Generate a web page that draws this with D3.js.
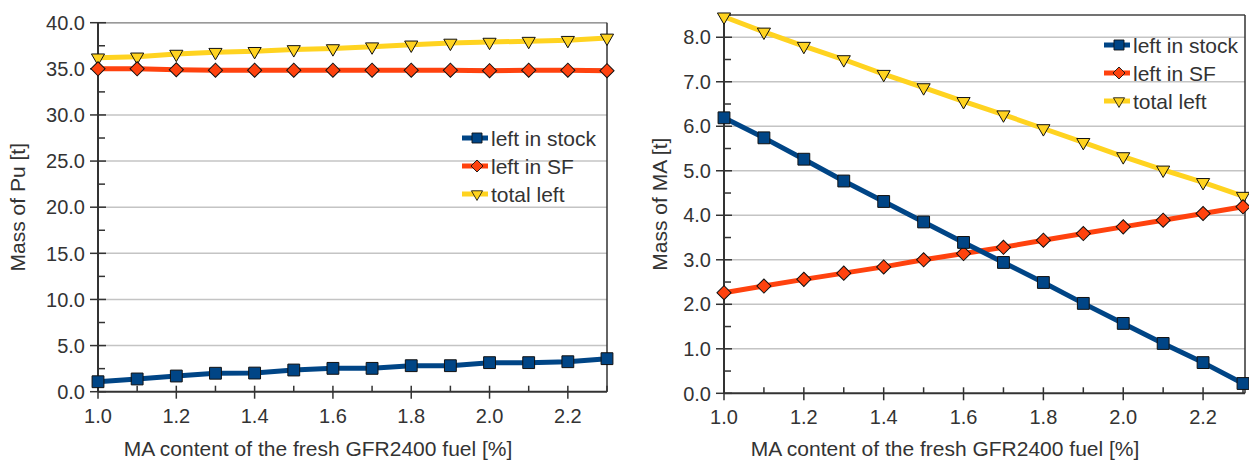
<!DOCTYPE html>
<html>
<head>
<meta charset="utf-8">
<script src="https://cdn.jsdelivr.net/npm/d3@7.9.0/dist/d3.min.js"></script>
<style>
  body { margin: 0; background: #fff; }
  svg { display: block; font-family: "Liberation Sans", Arial, sans-serif; }
</style>
</head>
<body>
<svg id="vis" width="1249" height="461"></svg>
<script>
// data
const maContent = [1.0, 1.1, 1.2, 1.3, 1.4, 1.5, 1.6, 1.7, 1.8, 1.9, 2.0, 2.1, 2.2, 2.3];
const seriesNames = ['left in stock', 'left in SF', 'total left'];

const puStock = [1.08, 1.38, 1.70, 2.00, 2.02, 2.35, 2.53, 2.53, 2.82, 2.82, 3.15, 3.15, 3.25, 3.58];
const puSF    = [35.0, 35.0, 34.9, 34.85, 34.85, 34.85, 34.85, 34.85, 34.85, 34.85, 34.8, 34.85, 34.85, 34.8];
const puTotal = [36.2, 36.3, 36.6, 36.8, 36.9, 37.1, 37.2, 37.4, 37.6, 37.8, 37.9, 38.0, 38.1, 38.35];

const maStock = [6.19, 5.74, 5.26, 4.77, 4.31, 3.85, 3.39, 2.94, 2.49, 2.02, 1.57, 1.12, 0.69, 0.22];
const maSF    = [2.26, 2.41, 2.56, 2.70, 2.84, 3.00, 3.14, 3.28, 3.44, 3.59, 3.74, 3.89, 4.04, 4.19];
const maTotal = [8.46, 8.12, 7.80, 7.50, 7.17, 6.87, 6.56, 6.26, 5.95, 5.64, 5.32, 5.02, 4.74, 4.43];

const xTitle = 'MA content of the fresh GFR2400 fuel [%]';

// styles
const colors = ['#004586', '#ff420e', '#ffd320'];
const textCol = '#333';
const gridCol = '#c4c4c4';
const axisCol = '#333';

const svg = d3.select('#vis');
svg.append('rect').attr('width', 1249).attr('height', 461).attr('fill', '#fff');

function symbolFor(i) {
  if (i === 0) return d3.symbol(d3.symbolSquare, 140)();
  if (i === 1) return d3.symbol(d3.symbolSquare, 100)();
  return d3.symbol(d3.symbolTriangle, 75)();
}
function symbolRot(i) {
  return i === 1 ? 45 : (i === 2 ? 180 : 0);
}

function drawPanel(cfg) {
  const g = svg.append('g');
  const x = d3.scaleLinear().domain([1.0, 2.3]).range([cfg.x0, cfg.x1]);
  const y = d3.scaleLinear().domain([0, cfg.yMax]).range([cfg.yBot, cfg.yTop]);

  const majors = d3.range(0, cfg.yMax + 1e-9, cfg.yStep);
  const minors = d3.range(cfg.yStep / 2, cfg.yMax + 1e-9, cfg.yStep);

  // grid
  g.append('g').selectAll('line').data(majors.filter(v => v > 0)).join('line')
    .attr('x1', cfg.x0).attr('x2', cfg.frameRight)
    .attr('y1', d => y(d)).attr('y2', d => y(d))
    .attr('stroke', gridCol).attr('stroke-width', 1.5);

  // frame top / right
  g.append('line').attr('x1', cfg.x0).attr('x2', cfg.frameRight)
    .attr('y1', cfg.yTop).attr('y2', cfg.yTop)
    .attr('stroke', cfg.topCol).attr('stroke-width', 1.5);
  g.append('line').attr('x1', cfg.frameRight).attr('x2', cfg.frameRight)
    .attr('y1', cfg.yTop).attr('y2', cfg.yBot)
    .attr('stroke', axisCol).attr('stroke-width', 1.5);

  // y axis
  g.append('line').attr('x1', cfg.x0).attr('x2', cfg.x0)
    .attr('y1', cfg.yTop).attr('y2', cfg.yBot)
    .attr('stroke', axisCol).attr('stroke-width', 2);
  g.append('g').selectAll('line').data(majors).join('line')
    .attr('x1', cfg.x0 - 8).attr('x2', cfg.x0 + 8)
    .attr('y1', d => y(d)).attr('y2', d => y(d))
    .attr('stroke', axisCol).attr('stroke-width', 1.5);
  g.append('g').selectAll('line').data(minors).join('line')
    .attr('x1', cfg.x0).attr('x2', cfg.x0 + 7)
    .attr('y1', d => y(d)).attr('y2', d => y(d))
    .attr('stroke', axisCol).attr('stroke-width', 1.5);
  g.append('g').selectAll('text').data(majors).join('text')
    .attr('x', cfg.x0 - 13).attr('y', d => y(d)).attr('dy', '0.36em')
    .attr('text-anchor', 'end').attr('font-size', 20).attr('fill', textCol)
    .text(d3.format('.1f'));

  // x axis
  const xt = maContent;
  g.append('line').attr('x1', cfg.x0).attr('x2', cfg.frameRight)
    .attr('y1', cfg.yBot).attr('y2', cfg.yBot)
    .attr('stroke', axisCol).attr('stroke-width', 2);
  g.append('g').selectAll('line').data(xt).join('line')
    .attr('x1', d => x(d)).attr('x2', d => x(d))
    .attr('y1', cfg.yBot - 6)
    .attr('y2', (d, i) => i % 2 === 0 ? cfg.yBot + 7 : cfg.yBot)
    .attr('stroke', axisCol).attr('stroke-width', 1.5);
  g.append('g').selectAll('text').data(xt.filter((d, i) => i % 2 === 0)).join('text')
    .attr('x', d => x(d)).attr('y', cfg.yBot + 31)
    .attr('text-anchor', 'middle').attr('font-size', 20).attr('fill', textCol)
    .text(d3.format('.1f'));

  // titles
  g.append('text').attr('x', cfg.xTitleX).attr('y', 456)
    .attr('text-anchor', 'middle').attr('font-size', 21).attr('fill', textCol)
    .text(xTitle);
  g.append('text')
    .attr('transform', `translate(${cfg.yTitleX},${(cfg.yTop + cfg.yBot) / 2}) rotate(-90)`)
    .attr('dy', '0.35em').attr('text-anchor', 'middle')
    .attr('font-size', 21).attr('fill', textCol)
    .text(cfg.yTitle);

  // series
  const line = d3.line().x((d, i) => x(maContent[i])).y(d => y(d));
  const order = [2, 1, 0];
  order.forEach(si => {
    g.append('path').datum(cfg.series[si])
      .attr('d', line).attr('fill', 'none')
      .attr('stroke', colors[si]).attr('stroke-width', 5)
      .attr('stroke-linejoin', 'round');
  });
  order.forEach(si => {
    g.append('g').selectAll('path').data(cfg.series[si]).join('path')
      .attr('d', symbolFor(si))
      .attr('transform', (d, i) => `translate(${x(maContent[i])},${y(d)}) rotate(${symbolRot(si)})`)
      .attr('fill', colors[si]).attr('stroke', '#111').attr('stroke-width', 1);
  });

  // legend
  const lg = g.append('g');
  seriesNames.forEach((name, si) => {
    const ly = cfg.legY + si * 28;
    lg.append('line').attr('x1', cfg.legX).attr('x2', cfg.legX + 26)
      .attr('y1', ly).attr('y2', ly)
      .attr('stroke', colors[si]).attr('stroke-width', 5);
    lg.append('path').attr('d', symbolFor(si))
      .attr('transform', `translate(${cfg.legX + 15},${ly}) rotate(${symbolRot(si)}) scale(0.85)`)
      .attr('fill', colors[si]).attr('stroke', '#111').attr('stroke-width', 1);
    lg.append('text').attr('x', cfg.legX + 29).attr('y', ly).attr('dy', '0.36em')
      .attr('font-size', 21).attr('fill', textCol).text(name);
  });
}

drawPanel({
  x0: 98, x1: 607, frameRight: 607, yTop: 22.7, yBot: 391.7,
  yMax: 40, yStep: 5, topCol: '#999',
  yTitle: 'Mass of Pu [t]', yTitleX: 18, xTitleX: 318,
  legX: 462, legY: 138,
  series: [puStock, puSF, puTotal]
});

drawPanel({
  x0: 724, x1: 1243, frameRight: 1245, yTop: 15, yBot: 393.3,
  yMax: 8.5, yStep: 1, topCol: '#444',
  yTitle: 'Mass of MA [t]', yTitleX: 660, xTitleX: 945,
  legX: 1104, legY: 45,
  series: [maStock, maSF, maTotal]
});
</script>
</body>
</html>
